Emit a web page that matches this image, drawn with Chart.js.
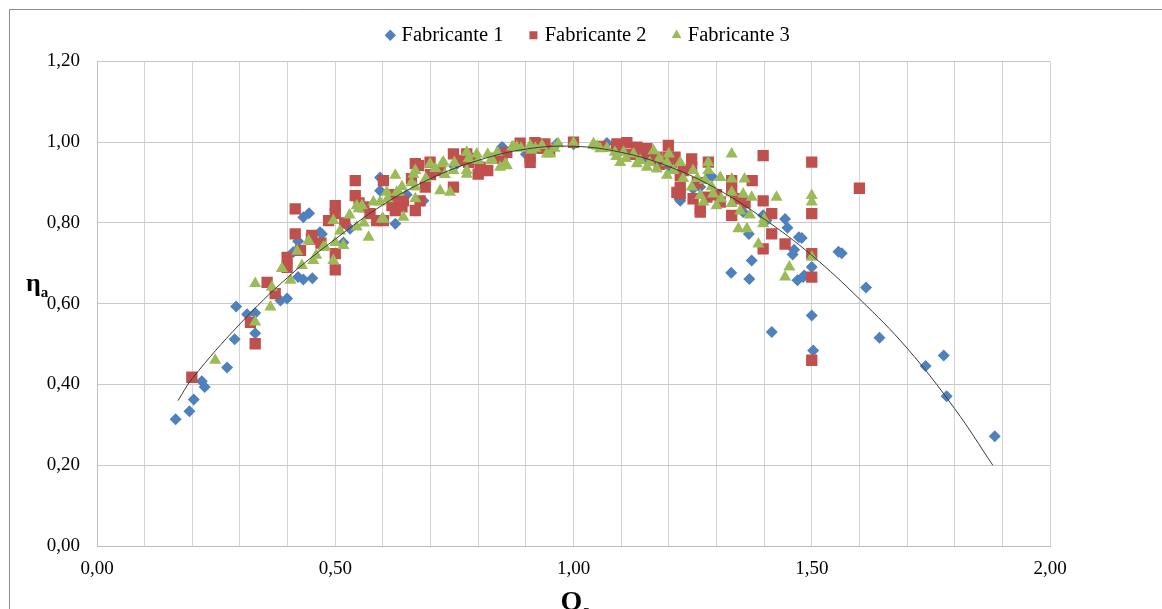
<!DOCTYPE html>
<html>
<head>
<meta charset="utf-8">
<script src="https://cdn.jsdelivr.net/npm/chart.js@4.4.1/dist/chart.umd.min.js"></script>
<style>
html,body{margin:0;padding:0;background:#fff;}
#wrap{position:relative;width:1162px;height:609px;}
</style>
</head>
<body>
<div id="wrap"><canvas id="c" width="1162" height="609"></canvas></div>
<script>
// ---- Data ----
const seriesNames = ["Fabricante 1", "Fabricante 2", "Fabricante 3"];

const f1X = [0.165,0.194,0.203,0.220,0.226,0.273,0.289,0.292,0.315,0.332,0.332,0.385,0.399,0.422,0.433,0.452,0.433,0.445,0.422,0.412,0.468,0.472,0.517,0.531,0.594,0.594,0.626,0.685,0.650,0.700,0.750,0.800,0.850,0.853,0.900,0.965,1.000,1.070,1.100,1.150,1.200,1.222,1.224,1.251,1.266,1.287,1.290,1.356,1.368,1.374,1.331,1.369,1.398,1.405,1.444,1.449,1.473,1.479,1.463,1.460,1.470,1.482,1.484,1.500,1.500,1.503,1.416,1.556,1.563,1.614,1.642,1.739,1.777,1.783,1.884];
const f1Y = [0.314,0.334,0.363,0.408,0.394,0.442,0.512,0.593,0.574,0.577,0.527,0.608,0.613,0.666,0.660,0.663,0.814,0.824,0.755,0.728,0.777,0.773,0.752,0.786,0.880,0.913,0.798,0.855,0.870,0.920,0.940,0.950,0.988,0.985,0.970,0.996,0.995,0.998,0.980,0.960,0.940,0.860,0.855,0.885,0.889,0.918,0.915,0.827,0.773,0.707,0.677,0.661,0.819,0.806,0.810,0.788,0.765,0.763,0.734,0.722,0.658,0.666,0.670,0.691,0.571,0.484,0.530,0.729,0.725,0.640,0.516,0.446,0.472,0.371,0.272];

const f2X = [0.199,0.322,0.332,0.357,0.374,0.399,0.399,0.416,0.416,0.427,0.451,0.486,0.500,0.500,0.500,0.500,0.542,0.542,0.573,0.587,0.601,0.601,0.619,0.626,0.643,0.668,0.668,0.675,0.678,0.689,0.699,0.748,0.748,0.776,0.780,0.800,0.804,0.850,0.888,0.909,0.909,0.919,0.940,1.000,1.091,1.112,1.133,1.154,1.161,1.175,1.199,1.199,1.213,1.217,1.224,1.224,1.224,1.248,1.248,1.251,1.266,1.266,1.280,1.283,1.308,1.332,1.332,1.332,1.375,1.398,1.398,1.398,1.416,1.416,1.444,1.500,1.500,1.500,1.500,1.500,1.600,
  0.450,0.470,0.520,0.550,0.560,0.620,0.640,0.660,0.700,0.720,0.760,0.790,0.820,0.840,0.860,0.930,0.950,1.060,1.090,1.120,1.140,1.180,1.205,1.230,1.260,1.300,1.340,1.360];
const f2Y = [0.418,0.554,0.501,0.653,0.625,0.715,0.690,0.835,0.773,0.732,0.769,0.806,0.843,0.823,0.724,0.684,0.905,0.868,0.823,0.806,0.905,0.806,0.843,0.831,0.855,0.947,0.831,0.942,0.855,0.889,0.951,0.971,0.889,0.971,0.950,0.921,0.938,0.965,0.998,0.950,0.963,0.999,0.996,1.000,0.996,0.999,0.988,0.984,0.971,0.963,0.992,0.963,0.963,0.876,0.918,0.889,0.872,0.959,0.938,0.860,0.835,0.827,0.864,0.951,0.852,0.905,0.880,0.819,0.905,0.967,0.855,0.736,0.823,0.773,0.748,0.951,0.823,0.724,0.666,0.460,0.886,
  0.760,0.750,0.800,0.850,0.840,0.870,0.840,0.910,0.920,0.930,0.955,0.960,0.930,0.960,0.975,0.985,0.980,0.990,0.985,0.970,0.975,0.945,0.950,0.930,0.900,0.870,0.860,0.850];

const f3X = [0.248,0.332,0.332,0.364,0.367,0.388,0.406,0.430,0.444,0.454,0.475,0.479,0.496,0.496,0.500,0.517,0.545,0.545,0.549,0.556,0.570,0.580,0.594,0.598,0.601,0.608,0.626,0.629,0.633,0.643,0.664,0.668,0.668,0.668,0.699,0.720,0.724,0.727,0.741,0.748,0.776,0.776,0.776,0.797,0.828,0.828,0.846,0.857,0.860,0.871,0.874,0.881,0.909,0.912,0.934,0.944,0.951,0.968,1.000,1.042,1.042,1.056,1.087,1.098,1.105,1.126,1.133,1.154,1.168,1.175,1.196,1.196,1.200,1.224,1.248,1.251,1.266,1.273,1.276,1.283,1.283,1.293,1.300,1.308,1.332,1.332,1.332,1.332,1.346,1.356,1.359,1.364,1.374,1.388,1.398,1.426,1.444,1.453,1.500,1.500,1.500,
  0.420,0.460,0.510,0.530,0.560,0.610,0.640,0.660,0.690,0.710,0.730,0.750,0.780,0.800,0.820,0.840,0.890,0.920,0.960,1.050,1.070,1.090,1.110,1.140,1.160,1.180,1.210,1.230,1.260,1.290,1.310,1.350,1.370,1.400];
const f3Y = [0.460,0.650,0.555,0.592,0.641,0.687,0.658,0.695,0.756,0.707,0.740,0.740,0.806,0.707,0.752,0.744,0.790,0.843,0.835,0.843,0.765,0.852,0.852,0.810,0.810,0.876,0.918,0.876,0.876,0.814,0.921,0.930,0.889,0.860,0.947,0.880,0.947,0.951,0.876,0.930,0.975,0.930,0.921,0.971,0.955,0.959,0.938,0.947,0.942,0.988,0.988,0.988,0.992,0.980,0.992,0.971,0.971,0.996,0.999,0.996,0.992,0.984,0.975,0.950,0.975,0.971,0.947,0.938,0.979,0.934,0.950,0.918,0.971,0.950,0.889,0.930,0.868,0.852,0.905,0.950,0.930,0.872,0.843,0.913,0.971,0.909,0.876,0.848,0.786,0.872,0.909,0.786,0.864,0.748,0.798,0.864,0.666,0.691,0.868,0.852,0.715,
  0.730,0.720,0.780,0.820,0.800,0.860,0.890,0.900,0.910,0.935,0.920,0.950,0.960,0.955,0.970,0.975,0.985,0.985,0.985,0.990,0.985,0.965,0.960,0.955,0.950,0.960,0.930,0.910,0.910,0.890,0.860,0.830,0.820,0.810];

// trend curve
const fitX = [0.17,0.20,0.30,0.40,0.50,0.60,0.70,0.80,0.90,1.00,1.10,1.20,1.30,1.40,1.50,1.60,1.70,1.80,1.88];
const fitY = [0.360,0.415,0.550,0.665,0.760,0.845,0.910,0.955,0.983,0.990,0.975,0.940,0.885,0.810,0.720,0.612,0.490,0.340,0.200];

const xTickLabels = {0:"0,00",5:"0,50",10:"1,00",15:"1,50",20:"2,00"};
const yTickLabels = ["0,00","0,20","0,40","0,60","0,80","1,00","1,20"];

const colors = ["#4F81BD", "#C0504D", "#9BBB59"];

function pts(xs, ys){ return xs.map((x,i)=>({x:x, y:ys[i]})); }

const SERIF = "'Liberation Serif','Times New Roman',serif";

const framePlugin = {
  id: 'frame',
  beforeDraw(chart){
    const ctx = chart.ctx;
    ctx.save();
    ctx.fillStyle = '#fff';
    ctx.fillRect(0,0,chart.width,chart.height);
    ctx.strokeStyle = '#8a8a8a';
    ctx.lineWidth = 1;
    ctx.beginPath();
    ctx.moveTo(9.5, chart.height);
    ctx.lineTo(9.5, 9.5);
    ctx.lineTo(chart.width, 9.5);
    ctx.stroke();
    ctx.restore();
  }
};

const titlePlugin = {
  id: 'axisTitles',
  afterDraw(chart){
    const ctx = chart.ctx;
    const area = chart.chartArea;
    ctx.save();
    ctx.fillStyle = '#000';
    ctx.textBaseline = 'alphabetic';
    ctx.textAlign = 'left';
    // y title: eta with subscript a
    ctx.font = "bold 26px " + SERIF;
    ctx.fillText("η", 26, 291);
    const w = ctx.measureText("η").width;
    ctx.font = "bold 15px " + SERIF;
    ctx.fillText("a", 26 + w, 297);
    // x title: Q with subscript a
    const cx = (area.left + area.right) / 2;
    ctx.font = "bold 28px " + SERIF;
    const qw = ctx.measureText("Q").width;
    ctx.fillText("Q", cx - qw/2 - 2, 610);
    ctx.font = "bold 16px " + SERIF;
    ctx.fillText("a", cx + qw/2 - 2, 616);
    ctx.restore();
  }
};

const scatterBase = (i, style, radius, order) => ({
  label: seriesNames[i],
  data: pts([f1X,f2X,f3X][i], [f1Y,f2Y,f3Y][i]),
  backgroundColor: colors[i],
  borderColor: colors[i],
  borderWidth: 0,
  pointStyle: style,
  pointRadius: radius,
  pointHoverRadius: radius,
  order: order
});

new Chart(document.getElementById('c'), {
  type: 'scatter',
  data: {
    datasets: [
      scatterBase(0, 'rectRot', 6, 3),
      scatterBase(1, 'rect', 8, 2),
      scatterBase(2, 'triangle', 7, 1),
      {
        label: 'trend',
        data: pts(fitX, fitY),
        showLine: true,
        borderColor: '#3a3a3a',
        borderWidth: 1,
        pointRadius: 0,
        tension: 0.4,
        fill: false,
        order: 0
      }
    ]
  },
  plugins: [framePlugin, titlePlugin],
  options: {
    responsive: false,
    animation: false,
    devicePixelRatio: 1,
    layout: { padding: { left: 17, right: 0, top: -4, bottom: 0 } },
    plugins: {
      tooltip: { enabled: false },
      legend: {
        position: 'top',
        align: 'center',
        labels: {
          usePointStyle: true,
          boxWidth: 2,
          boxHeight: 8,
          padding: 29,
          color: '#000',
          font: { family: SERIF, size: 20.5 },
          filter: (item) => item.text !== 'trend',
          sort: (a, b) => a.datasetIndex - b.datasetIndex
        }
      }
    },
    scales: {
      x: {
        type: 'linear',
        min: 0, max: 2,
        afterFit: (s) => { s.height = 63; },
        afterBuildTicks: (s) => {
          s.ticks = Array.from({length: 21}, (_, k) => ({ value: k / 10 }));
        },
        ticks: {
          autoSkip: false,
          maxRotation: 0,
          padding: 12,
          color: '#000',
          font: { family: SERIF, size: 19 },
          callback: (v) => {
            const k = Math.round(v * 10);
            return xTickLabels[k] !== undefined ? xTickLabels[k] : '';
          }
        },
        grid: { color: '#d4d4d4', lineWidth: 1, drawTicks: false },
        border: { color: '#bdbdbd' }
      },
      xTopSpace: {
        type: 'linear',
        position: 'top',
        min: 0, max: 2,
        afterFit: (s) => { s.height = 6; },
        ticks: { display: false },
        grid: { display: false, drawTicks: false },
        border: { display: false }
      },
      y: {
        type: 'linear',
        min: 0, max: 1.2,
        afterFit: (s) => { s.width = 80; },
        afterBuildTicks: (s) => {
          s.ticks = yTickLabels.map((_, k) => ({ value: k * 0.2 }));
        },
        ticks: {
          padding: 17,
          color: '#000',
          font: { family: SERIF, size: 19 },
          callback: (v) => yTickLabels[Math.round(v / 0.2)]
        },
        grid: { color: '#c8c8c8', lineWidth: 1, drawTicks: false },
        border: { color: '#bdbdbd' }
      },
      yRightSpace: {
        type: 'linear',
        position: 'right',
        min: 0, max: 1.2,
        afterFit: (s) => { s.width = 112; },
        ticks: { display: false },
        grid: { display: false, drawTicks: false },
        border: { display: false }
      }
    }
  }
});
</script>
</body>
</html>
